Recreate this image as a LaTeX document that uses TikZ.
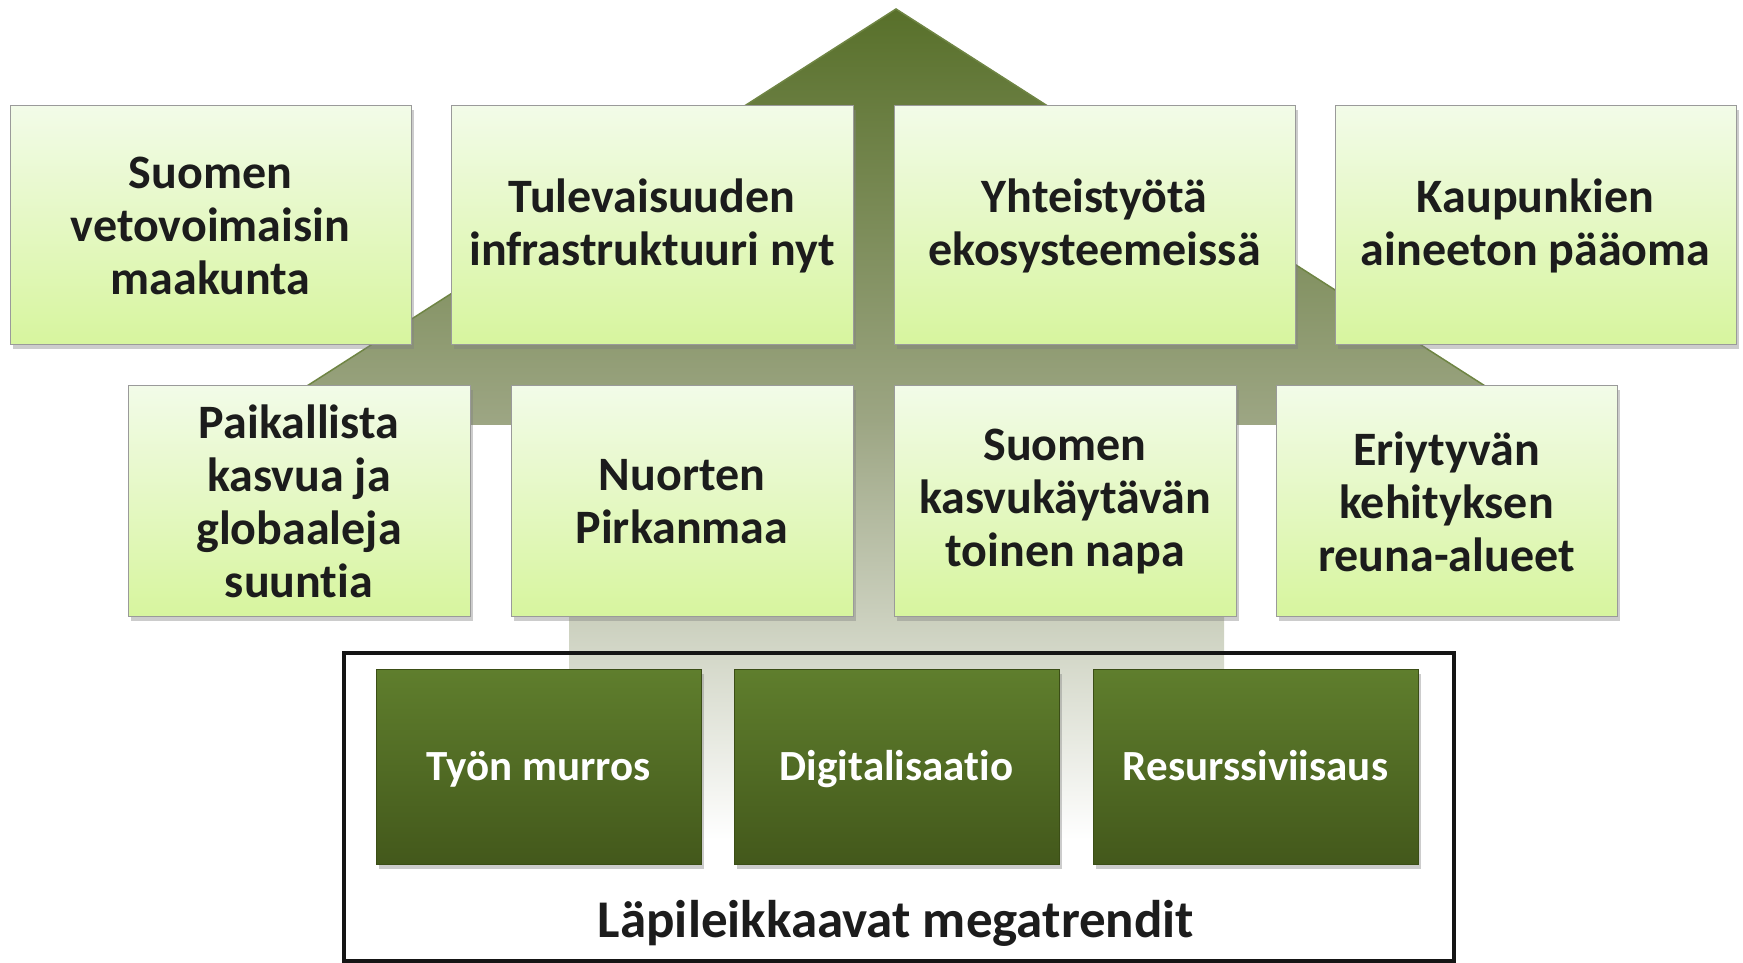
\documentclass[tikz,border=0pt]{standalone}
\usepackage{fontspec}
\setmainfont{Carlito}[Ligatures=NoCommon]
\usetikzlibrary{shadows}
\definecolor{lighttop}{HTML}{F2FBE8}
\definecolor{lightbot}{HTML}{D7F59E}
\definecolor{boxborder}{HTML}{9A9A9A}
\definecolor{textdark}{HTML}{1C1C1C}
\definecolor{darktop}{HTML}{5F7E2D}
\definecolor{darkbot}{HTML}{43581B}
\definecolor{darkedge}{HTML}{3B4E16}
\definecolor{headtop}{HTML}{58702A}
\definecolor{headbot}{HTML}{9DA684}
\definecolor{headedge}{HTML}{6F8544}
\definecolor{shafttop}{HTML}{9DA684}
\definecolor{shaftmid}{HTML}{CDD2C0}
\definecolor{framecol}{HTML}{151515}
\begin{document}
\begin{tikzpicture}[x=1pt,y=1pt,
  lightbox/.style={draw=boxborder, line width=1pt, top color=lighttop, bottom color=lightbot,
    drop shadow={shadow xshift=3pt, shadow yshift=-4pt, opacity=0.4},
    align=center, font=\fontsize{48}{53}\selectfont\bfseries, text=textdark, inner sep=0pt},
  toprow/.style={lightbox, minimum height=239pt},
  midrow/.style={lightbox, minimum height=231pt},
  darkbox/.style={draw=darkedge, line width=1pt, top color=darktop, bottom color=darkbot,
    drop shadow={shadow xshift=3pt, shadow yshift=-4pt, opacity=0.4},
    minimum width=325pt, minimum height=195pt, inner sep=0pt,
    text height=32pt, text depth=6pt,
    font=\fontsize{43}{50}\selectfont\bfseries, text=white},
  framebox/.style={draw=framecol, line width=4pt},
  biglabel/.style={font=\fontsize{53}{60}\selectfont\bfseries, text=textdark, inner sep=0pt}
]
\useasboundingbox (0,0) rectangle (1743,963);
% arrow shaft
\shade[top color=shafttop, middle color=shaftmid, bottom color=white] (569,540) rectangle (1224,123);
% arrow head
\shade[top color=headtop, bottom color=headbot] (246,538) -- (896,954) -- (1546,538) -- cycle;
\draw[draw=headedge, line width=1.5pt, line join=miter] (246,538) -- (896,954) -- (1546,538);
% top row
\node[toprow, minimum width=401pt] (b1) at (210.5,737.5) {Suomen\\vetovoimaisin\\maakunta};
\node[toprow, minimum width=402pt] (b2) at (652,737.5) {Tulevaisuuden\\infrastruktuuri nyt};
\node[toprow, minimum width=401pt] (b3) at (1094.5,737.5) {Yhteistyötä\\ekosysteemeissä};
\node[toprow, minimum width=401pt] (b4) at (1535.5,737.5) {Kaupunkien\\aineeton pääoma};
% second row
\node[midrow, minimum width=342pt] (b5) at (299,461.5) {Paikallista\\kasvua ja\\globaaleja\\suuntia};
\node[midrow, minimum width=342pt] (b6) at (682,461.5) {Nuorten\\Pirkanmaa};
\node[midrow, minimum width=342pt] (b7) at (1065,461.5) {Suomen\\kasvukäytävän\\toinen napa};
\node[midrow, minimum width=341pt] (b8) at (1446.5,461.5) {Eriytyvän\\kehityksen\\reuna-alueet};
% frame
\draw[framebox] (344,310) rectangle (1454,2);
% megatrends
\node[darkbox] (m1) at (538.5,195.5) {Työn murros};
\node[darkbox] (m2) at (896.5,195.5) {Digitalisaatio};
\node[darkbox] (m3) at (1255.5,195.5) {Resurssiviisaus};
\node[biglabel] (lbl) at (896,40) {Läpileikkaavat megatrendit};
\end{tikzpicture}
\end{document}
